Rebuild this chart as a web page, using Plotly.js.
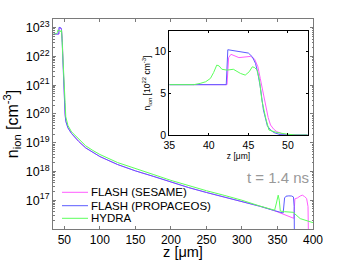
<!DOCTYPE html>
<html>
<head>
<meta charset="utf-8">
<script src="https://cdn.plot.ly/plotly-3.0.1.min.js"></script>
<style>html,body{margin:0;padding:0;background:#fff;}#chart{width:346px;height:260px;}</style>
</head>
<body>
<div id="chart"></div>
<script>
// ---------- data: main panel (n_ion in cm^-3 vs z in µm) ----------
const seriesNames = ["FLASH (SESAME)", "FLASH (PROPACEOS)", "HYDRA"];
const seriesColors = ["#ff5cff", "#5c5cff", "#5cff5c"];

const zSesame = [35, 42.2, 42.5, 43, 43.8, 45.3, 46, 46.5, 47, 47.5, 48, 48.5, 49, 49.5, 50, 51, 52, 55, 60, 70, 80, 90, 100, 125, 150, 175, 200, 225, 250, 275, 300, 325, 345, 360, 373, 374.5, 378, 382, 385, 388, 391, 393, 394];
const nSesame = [6e22, 6e22, 9.5e22, 9.7e22, 9.3e22, 9.5e22, 8.6e22, 6.8e22, 4.2e22, 2e22, 8e21, 3e21, 1.2e21, 5e20, 2.5e20, 1e20, 5.8e19, 3.3e19, 2.1e19, 1.12e19, 6.6e18, 4.6e18, 3.3e18, 1.74e18, 1.05e18, 6.8e17, 4.2e17, 2.75e17, 1.86e17, 1.29e17, 9.1e16, 6.2e16, 4.4e16, 3.2e16, 2.35e16, 1.12e17, 1.2e17, 1.4e17, 1.5e17, 1.35e17, 1.15e17, 6e16, 1e15];

const zPropaceos = [35, 42.2, 42.5, 44, 45.3, 45.9, 46.5, 47, 47.5, 48, 48.5, 49, 49.5, 50, 51, 52, 55, 60, 70, 80, 90, 100, 125, 150, 175, 200, 225, 250, 275, 300, 325, 345, 358, 360, 362, 366, 370, 372.5, 373.5, 374];
const nPropaceos = [6e22, 6e22, 1.03e23, 1.01e23, 9.8e22, 8.6e22, 5.8e22, 3e22, 1.3e22, 5e21, 2e21, 9e20, 4.5e20, 2.3e20, 9.5e19, 5.5e19, 3.3e19, 2.1e19, 1.12e19, 6.6e18, 4.6e18, 3.3e18, 1.74e18, 1.05e18, 6.8e17, 4.2e17, 2.75e17, 1.86e17, 1.29e17, 9.1e16, 6.2e16, 4.4e16, 3.6e16, 1.2e17, 1.38e17, 1.42e17, 1.4e17, 1.3e17, 6e16, 1e15];

const zHydra = [35, 38, 39, 40.2, 41, 41.6, 43.1, 44.6, 45.5, 46.1, 46.7, 47.2, 47.6, 48, 48.5, 49, 49.5, 50, 51, 52, 55, 60, 70, 80, 90, 100, 125, 150, 175, 200, 225, 250, 275, 300, 325, 346, 348.5, 351, 352.5, 354, 360, 372, 382, 390, 400];
const nHydra = [6e22, 6e22, 6.2e22, 6.8e22, 8.4e22, 7.9e22, 7.9e22, 7.2e22, 8.2e22, 7.8e22, 4.2e22, 2e22, 9e21, 6e21, 3.2e21, 2e21, 1.3e21, 8e20, 2.5e20, 8e19, 4e19, 2.4e19, 1.32e19, 7.8e18, 5.4e18, 3.9e18, 2.04e18, 1.23e18, 7.9e17, 4.9e17, 3.2e17, 2.14e17, 1.48e17, 1e17, 6.3e16, 4.5e16, 8e16, 1.5e17, 1e17, 4.2e16, 4e16, 3.8e16, 2.3e16, 2e16, 1.66e16];

// ---------- data: inset (n_ion in 10^22 cm^-3) ----------
const zInSesame = [35, 42.3, 42.5, 42.8, 43.8, 44.5, 45.3, 45.8, 46.2, 46.5, 46.9, 47.2, 47.5, 47.8, 48.2, 48.6, 49.4, 50, 52.5];
const vInSesame = [6.05, 6.05, 9.3, 9.7, 9.3, 9.4, 9.45, 9.1, 8.2, 6.8, 4.8, 3.4, 2.1, 1.2, 0.7, 0.4, 0.1, 0.02, 0];
const zInPropaceos = [35, 42.2, 42.4, 43, 44, 45, 45.5, 45.9, 46.2, 46.5, 46.9, 47.4, 47.8, 48.2, 49, 50, 52.5];
const vInPropaceos = [6.05, 6.05, 10.25, 10.15, 10.05, 9.85, 9.4, 8.6, 7.4, 5.8, 3.0, 1.1, 0.6, 0.3, 0.05, 0, 0];
const zInHydra = [35, 38.1, 38.9, 39.6, 40.2, 40.6, 41.0, 41.3, 41.65, 42.3, 43.1, 44.0, 44.6, 45.1, 45.5, 45.8, 46.1, 46.4, 46.7, 47.0, 47.2, 47.6, 48.0, 48.6, 49.9, 51, 52.5];
const vInHydra = [6.05, 6.05, 6.2, 6.4, 6.8, 7.5, 8.4, 8.3, 7.9, 7.8, 7.9, 7.4, 7.2, 7.6, 8.2, 8.1, 7.8, 6.6, 4.2, 2.8, 2.0, 0.6, 0.45, 0.3, 0.1, 0, 0];

// ---------- tick labels ----------
const mainXTicks = [50, 100, 150, 200, 250, 300, 350, 400];
const mainYExponents = [17, 18, 19, 20, 21, 22, 23];
const insetXTicks = [35, 40, 45, 50];
const insetYTicks = [0, 5, 10];
const timeLabel = "t = 1.4 ns";

const FONT = "Liberation Sans, Arial, Helvetica, sans-serif";
const mainY = mainYExponents.map(e => Math.pow(10, e));
const mainYText = mainYExponents.map(e => "10<sup>" + e + "</sup>");
const minorY = [];
for (let e = 16; e <= 23; e++) for (let m = 2; m <= 9; m++) { const v = m * Math.pow(10, e); if (v <= 2e23) minorY.push(v); }

const mainZ = [zSesame, zPropaceos, zHydra];
const mainN = [nSesame, nPropaceos, nHydra];
const inZ = [zInSesame, zInPropaceos, zInHydra];
const inV = [vInSesame, vInPropaceos, vInHydra];

const traces = [];
for (let i = 0; i < 3; i++) {
  traces.push({x: mainZ[i], y: mainN[i], type: "scatter", mode: "lines", name: seriesNames[i],
    line: {color: seriesColors[i], width: 1}, xaxis: "x", yaxis: "y", showlegend: false, hoverinfo: "skip"});
}
for (let i = 0; i < 3; i++) {
  traces.push({x: inZ[i], y: inV[i], type: "scatter", mode: "lines", name: seriesNames[i],
    line: {color: seriesColors[i], width: 1}, xaxis: "x2", yaxis: "y2", showlegend: false, hoverinfo: "skip"});
}

// plot area geometry (px)
const L = 53, R = 33, T = 19, B = 31, W = 346 - L - R, H = 260 - T - B;
const px = x => (x - L) / W;
const py = y => (260 - B - y) / H;

const shapes = [];
const annotations = [];
const legendRows = [192.3, 205.7, 218.3];
for (let i = 0; i < 3; i++) {
  shapes.push({type: "line", xref: "paper", yref: "paper", x0: px(62), x1: px(88), y0: py(legendRows[i]), y1: py(legendRows[i]),
    line: {color: seriesColors[i], width: 1}});
  annotations.push({xref: "paper", yref: "paper", x: px(89), y: py(legendRows[i]), xanchor: "left", yanchor: "middle",
    text: seriesNames[i], showarrow: false, font: {family: FONT, size: 11.5, color: "#000"}});
}
annotations.push({xref: "paper", yref: "paper", x: px(278), y: py(177), xanchor: "center", yanchor: "middle",
  text: timeLabel, showarrow: false, font: {family: FONT, size: 15, color: "#999"}});

const mainAxisColor = "#7a7a7a";
const layout = {
  width: 346, height: 260,
  margin: {l: L, r: R, t: T, b: B, pad: 0},
  paper_bgcolor: "#fff", plot_bgcolor: "#fff",
  showlegend: false,
  font: {family: FONT, size: 11, color: "#000"},
  xaxis: {domain: [0, 1], range: [34, 400], tickmode: "array", tickvals: mainXTicks, ticks: "inside", ticklen: 3,
    tickcolor: mainAxisColor, showline: true, linecolor: mainAxisColor, linewidth: 1, mirror: "ticks",
    showgrid: false, zeroline: false, tickfont: {family: FONT, size: 12},
    title: {text: "z [μm]", font: {family: FONT, size: 14.5}, standoff: 5}, automargin: false, anchor: "y"},
  yaxis: {domain: [0, 1], type: "log", range: [16, Math.log10(2e23)], tickmode: "array", tickvals: mainY, ticktext: mainYText,
    ticks: "inside", ticklen: 3, tickcolor: mainAxisColor, showline: true, linecolor: mainAxisColor, linewidth: 1,
    mirror: "ticks", showgrid: false, zeroline: false, tickfont: {family: FONT, size: 12.5},
    minor: {tickvals: minorY, ticks: "inside", ticklen: 1.5, tickcolor: mainAxisColor, showgrid: false},
    title: {text: "n<sub>ion</sub> [cm<sup>-3</sup>]", font: {family: FONT, size: 16}, standoff: 3}, automargin: false, anchor: "x"},
  xaxis2: {domain: [px(169.3), px(307.7)], anchor: "y2", range: [35, 52.5], tickmode: "array", tickvals: insetXTicks,
    ticks: "inside", ticklen: 2, tickcolor: "#000", showline: true, linecolor: "#000", linewidth: 1, mirror: "ticks",
    showgrid: false, zeroline: false, tickfont: {family: FONT, size: 10.5},
    title: {text: "z [μm]", font: {family: FONT, size: 8.5}, standoff: 1}, automargin: false},
  yaxis2: {domain: [py(135), py(31)], anchor: "x2", range: [0, 12.5], tickmode: "array", tickvals: insetYTicks,
    ticks: "inside", ticklen: 2, tickcolor: "#000", showline: true, linecolor: "#000", linewidth: 1, mirror: "ticks",
    showgrid: false, zeroline: false, tickfont: {family: FONT, size: 10.5},
    title: {text: "n<sub>ion</sub> [10<sup>22</sup> cm<sup>-3</sup>]", font: {family: FONT, size: 8.5}, standoff: 2}, automargin: false},
  shapes: shapes,
  annotations: annotations
};

Plotly.newPlot("chart", traces, layout, {staticPlot: true, displayModeBar: false});
</script>
</body>
</html>
